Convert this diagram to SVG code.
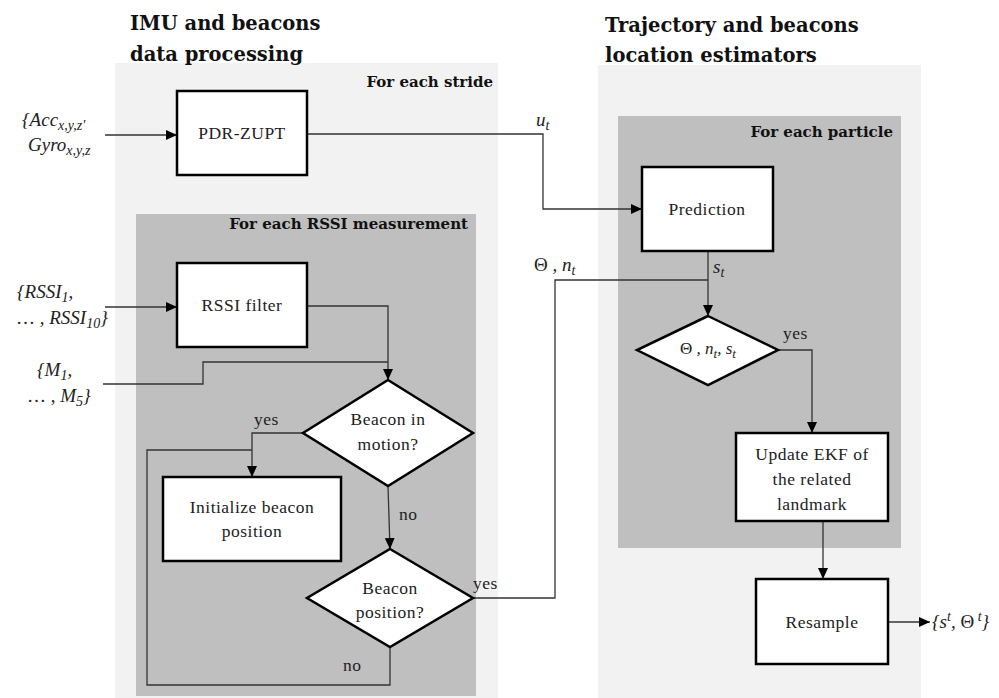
<svg xmlns="http://www.w3.org/2000/svg" width="999" height="698" viewBox="0 0 999 698">
<defs>
<marker id="ah" markerUnits="userSpaceOnUse" markerWidth="11" markerHeight="10" refX="11" refY="5" orient="auto"><path d="M0,0 L11,5 L0,10 z" fill="#000"/></marker>
<style>
.light{fill:#f2f2f2}
.dark{fill:#bfbfbf}
.box{fill:#fff;stroke:#000;stroke-width:2.5}
.t{font-family:"Liberation Serif","Times New Roman",serif;font-size:17.5px;letter-spacing:0.5px;fill:#222;text-anchor:middle}
.h{font-family:"DejaVu Serif",serif;font-size:19.5px;font-weight:bold;fill:#111}
.g{font-family:"DejaVu Serif",serif;font-size:15px;font-weight:bold;fill:#111;text-anchor:end}
.m{font-family:"Liberation Serif",serif;font-size:19px;font-style:italic;fill:#222}
.u{font-style:normal}
.sub{font-size:14px}
.lab{font-family:"Liberation Serif",serif;font-size:17.5px;letter-spacing:0.5px;fill:#222}
.c{fill:none;stroke:#333;stroke-width:1.3}
</style>
</defs>
<g id="regions">
<rect class="light" x="115" y="63" width="383" height="635"/>
<rect class="dark" x="136" y="214" width="340" height="482"/>
<rect class="light" x="598" y="65" width="323" height="633"/>
<rect class="dark" x="618" y="116" width="283" height="432"/>
<text class="h" x="130" y="30">IMU and beacons</text>
<text class="h" x="130" y="61">data processing</text>
<text class="h" x="605" y="32">Trajectory and beacons</text>
<text class="h" x="605" y="62">location estimators</text>
<text class="g" x="493" y="87">For each stride</text>
<text class="g" x="468" y="229">For each RSSI measurement</text>
<text class="g" x="893" y="137">For each particle</text>
</g>
<g id="connectors">
<path class="c" d="M105,135 H177" marker-end="url(#ah)"/>
<path class="c" d="M307,134 H543 V209 H642" marker-end="url(#ah)"/>
<path class="c" d="M105,307 H177" marker-end="url(#ah)"/>
<path class="c" d="M307,306 H388 V380" marker-end="url(#ah)"/>
<path class="c" d="M103,384 H203 V362 H388"/>
<path class="c" d="M303,433 H252 V477" marker-end="url(#ah)"/>
<path class="c" d="M388,486 L390,549" marker-end="url(#ah)"/>
<path class="c" d="M473,598 H555 V280 H708"/>
<path class="c" d="M390,647 V685 H147 V450 H252"/>
<path class="c" d="M708,251 V316" marker-end="url(#ah)"/>
<path class="c" d="M778,350 H812 V433" marker-end="url(#ah)"/>
<path class="c" d="M823,521 V579" marker-end="url(#ah)"/>
<path class="c" d="M888,622 H930" marker-end="url(#ah)"/>
<text class="m" x="536" y="126">u<tspan class="sub" dy="4">t</tspan></text>
<text class="m" x="534" y="271"><tspan class="u">Θ</tspan> , n<tspan class="sub" dy="4">t</tspan></text>
<text class="m" x="713" y="273">s<tspan class="sub" dy="4">t</tspan></text>
<text class="lab" x="254" y="425">yes</text>
<text class="lab" x="399" y="520">no</text>
<text class="lab" x="473" y="589">yes</text>
<text class="lab" x="343" y="671">no</text>
<text class="lab" x="783" y="339">yes</text>
</g>
<g id="inputs">
<text class="m" x="22" y="126">{Acc<tspan class="sub" dy="4">x,y,z'</tspan></text>
<text class="m" x="28" y="151">Gyro<tspan class="sub" dy="4">x,y,z</tspan></text>
<text class="m" x="17" y="298">{RSSI<tspan class="sub" dy="4">1</tspan><tspan dy="-4">,</tspan></text>
<text class="m" x="16" y="324"><tspan class="u">… ,</tspan> RSSI<tspan class="sub" dy="4">10</tspan><tspan dy="-4">}</tspan></text>
<text class="m" x="37" y="376">{M<tspan class="sub" dy="4">1</tspan><tspan dy="-4">,</tspan></text>
<text class="m" x="27" y="402"><tspan class="u">… ,</tspan> M<tspan class="sub" dy="4">5</tspan><tspan dy="-4">}</tspan></text>
</g>
<g id="pdr">
<rect class="box" x="177" y="91" width="130" height="84"/>
<text class="t" x="242" y="139">PDR-ZUPT</text>
</g>
<g id="rssi-filter">
<rect class="box" x="177" y="263" width="130" height="84"/>
<text class="t" x="242" y="311">RSSI filter</text>
</g>
<g id="beacon-motion">
<polygon class="box" points="388,380 473,433 388,486 303,433"/>
<text class="t" x="388" y="425">Beacon in</text>
<text class="t" x="388" y="450">motion?</text>
</g>
<g id="init-beacon">
<rect class="box" x="163" y="477" width="178" height="84"/>
<text class="t" x="252" y="513">Initialize beacon</text>
<text class="t" x="252" y="537">position</text>
</g>
<g id="beacon-position">
<polygon class="box" points="390,549 473,598 390,647 307,598"/>
<text class="t" x="390" y="594">Beacon</text>
<text class="t" x="390" y="618">position?</text>
</g>
<g id="prediction">
<rect class="box" x="642" y="167" width="131" height="84"/>
<text class="t" x="707" y="215">Prediction</text>
</g>
<g id="check">
<polygon class="box" points="708,316 778,350 708,385 637,350"/>
<text class="m" x="708" y="354" style="text-anchor:middle;font-size:17px"><tspan class="u">Θ</tspan> , n<tspan class="sub" dy="4" style="font-size:13px">t</tspan><tspan dy="-4">, s</tspan><tspan class="sub" dy="4" style="font-size:13px">t</tspan></text>
</g>
<g id="update-ekf">
<rect class="box" x="736" y="433" width="152" height="88"/>
<text class="t" x="812" y="460">Update EKF of</text>
<text class="t" x="812" y="485">the related</text>
<text class="t" x="812" y="510">landmark</text>
</g>
<g id="resample">
<rect class="box" x="756" y="579" width="132" height="85"/>
<text class="t" x="822" y="628">Resample</text>
</g>
<g id="output">
<text class="m" x="932" y="628">{s<tspan class="sub" dy="-7">t</tspan><tspan dy="7">, </tspan><tspan class="u">Θ</tspan><tspan class="sub" dy="-7"> t</tspan><tspan dy="7">}</tspan></text>
</g>
</svg>
